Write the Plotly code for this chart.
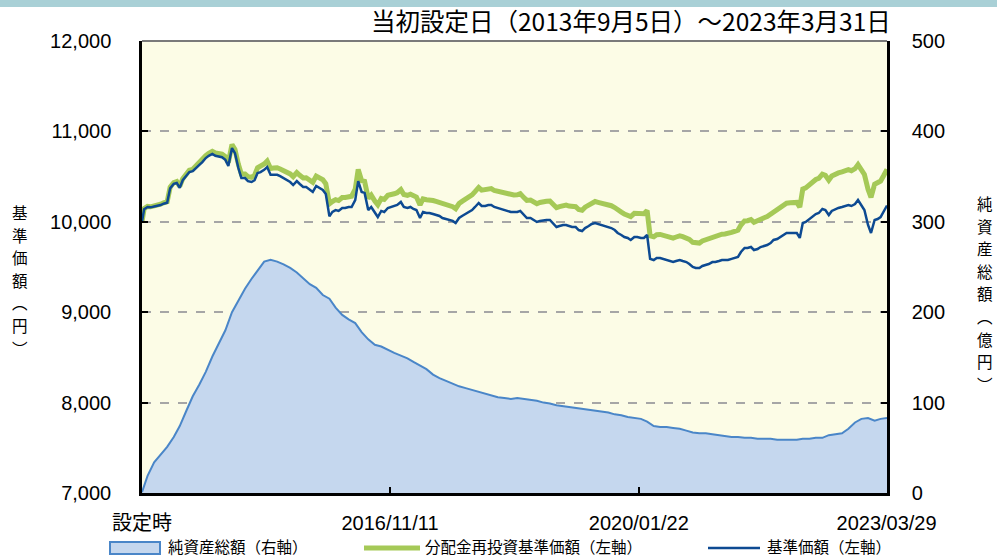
import pandas as pd
import plotly.graph_objects as go

# ---------------- data ----------------
title_text = "当初設定日（2013年9月5日）～2023年3月31日"
x_tick_dates = ["2013-09-05", "2016-11-11", "2020-01-22", "2023-03-29"]
x_tick_labels = ["設定時", "2016/11/11", "2020/01/22", "2023/03/29"]
left_title = "基準価額（円）"
right_title = "純資産総額（億円）"
series_names = ["純資産総額（右軸）", "分配金再投資基準価額（左軸）", "基準価額（左軸）"]

price_dates = (["2013-09-05"]
               + [d.strftime("%Y-%m-%d") for d in pd.date_range("2013-09-15", "2023-03-15", freq="SMS")]
               + ["2023-03-31"])
nav_dates = (["2013-09-05"]
             + [d.strftime("%Y-%m-%d") for d in pd.date_range("2013-10-01", "2023-03-01", freq="MS")]
             + ["2023-03-31"])

nav_price = [
    10000, 10140, 10164, 10160, 10170, 10175, 10185, 10200,
    10210, 10370, 10420, 10430, 10375, 10460, 10510, 10550,
    10560, 10595, 10630, 10660, 10705, 10730, 10750, 10730,
    10717, 10715, 10685, 10617, 10816, 10760, 10595, 10485,
    10484, 10450, 10440, 10460, 10540, 10550, 10575, 10606,
    10520, 10520, 10520, 10505, 10485, 10462, 10440, 10407,
    10450, 10418, 10385, 10385, 10350, 10330, 10396, 10374,
    10352, 10308, 10060, 10110, 10130, 10120, 10153, 10153,
    10164, 10164, 10240, 10450, 10330, 10320, 10130, 10164,
    10097, 10053, 10120, 10108, 10153, 10164, 10175, 10186,
    10219, 10164, 10153, 10164, 10142, 10130, 10042, 10108,
    10097, 10097, 10086, 10075, 10064, 10042, 10031, 10020,
    10010, 9987, 10042, 10064, 10086, 10108, 10130, 10164,
    10208, 10175, 10175, 10186, 10186, 10164, 10153, 10142,
    10130, 10120, 10108, 10108, 10108, 10120, 10075, 10042,
    10042, 10020, 9998, 10010, 10020, 10020, 10020, 9987,
    9942, 9953, 9965, 9965, 9953, 9942, 9942, 9909,
    9898, 9931, 9953, 9976, 9987, 9976, 9965, 9953,
    9942, 9931, 9909, 9876, 9854, 9832, 9821, 9799,
    9832, 9832, 9821, 9821, 9854, 9590, 9577, 9600,
    9600, 9590, 9577, 9566, 9555, 9566, 9577, 9566,
    9555, 9533, 9500, 9489, 9489, 9511, 9522, 9533,
    9555, 9555, 9566, 9577, 9577, 9577, 9590, 9600,
    9611, 9666, 9710, 9710, 9721, 9688, 9699, 9721,
    9732, 9743, 9765, 9799, 9810, 9832, 9854, 9876,
    9876, 9876, 9876, 9821, 9987, 9998, 10031, 10064,
    10086, 10097, 10142, 10130, 10075, 10120, 10142, 10153,
    10164, 10175, 10186, 10175, 10197, 10241, 10175, 10130,
    9965, 9876, 10020, 10031, 10053, 10110, 10180,
]

reinvested_price = [
    10000, 10145, 10170, 10166, 10177, 10183, 10195, 10210,
    10222, 10383, 10434, 10445, 10391, 10477, 10528, 10570,
    10581, 10618, 10654, 10685, 10731, 10757, 10780, 10762,
    10750, 10750, 10720, 10655, 10855, 10800, 10637, 10530,
    10530, 10500, 10492, 10515, 10597, 10610, 10640, 10673,
    10590, 10595, 10598, 10585, 10568, 10548, 10530, 10500,
    10545, 10515, 10485, 10487, 10455, 10437, 10505, 10485,
    10465, 10420, 10200, 10225, 10245, 10235, 10268, 10270,
    10282, 10283, 10360, 10580, 10455, 10447, 10260, 10295,
    10230, 10188, 10257, 10247, 10293, 10296, 10310, 10322,
    10356, 10302, 10293, 10305, 10285, 10274, 10187, 10254,
    10244, 10245, 10235, 10225, 10215, 10194, 10185, 10176,
    10167, 10145, 10202, 10226, 10250, 10274, 10298, 10334,
    10380, 10350, 10352, 10365, 10367, 10346, 10337, 10327,
    10316, 10307, 10296, 10297, 10299, 10312, 10268, 10237,
    10240, 10220, 10200, 10214, 10226, 10228, 10230, 10199,
    10156, 10168, 10182, 10184, 10174, 10165, 10167, 10136,
    10127, 10162, 10186, 10211, 10224, 10215, 10206, 10196,
    10187, 10178, 10158, 10127, 10107, 10087, 10078, 10058,
    10094, 10096, 10087, 10089, 10124, 9845, 9835, 9858,
    9860, 9852, 9840, 9830, 9820, 9832, 9845, 9835,
    9825, 9805, 9773, 9763, 9765, 9788, 9800, 9812,
    9836, 9838, 9850, 9863, 9865, 9867, 9882, 9894,
    9907, 9964, 10010, 10012, 10025, 9994, 10007, 10031,
    10045, 10058, 10083, 10120, 10134, 10158, 10182, 10206,
    10210, 10212, 10214, 10162, 10362, 10376, 10411, 10444,
    10468, 10480, 10527, 10515, 10460, 10506, 10529, 10541,
    10552, 10564, 10576, 10565, 10588, 10633, 10567, 10523,
    10359, 10271, 10416, 10428, 10451, 10509, 10580,
]

net_assets = [
    1,
    19, 34, 43, 51, 62, 74, 91, 107,
    120, 134, 151, 166, 180, 200, 213, 226,
    237, 246, 256, 258, 256, 253, 249, 244,
    238, 231, 227, 219, 215, 205, 197, 192,
    188, 178, 170, 164, 162, 158, 155, 152,
    149, 145, 141, 137, 131, 127, 124, 121,
    118, 116, 114, 112, 110, 108, 106, 105,
    104, 105, 104, 103, 102, 100, 99, 97,
    96, 95, 94, 93, 92, 91, 90, 89,
    87, 86, 84, 83, 82, 79, 74, 73,
    73, 72, 71, 69, 67, 66, 66, 65,
    64, 63, 62, 62, 61, 61, 60, 60,
    60, 59, 59, 59, 59, 60, 60, 61,
    61, 64, 65, 66, 71, 78, 82, 83,
    80, 82,
    83,
]

assert len(price_dates) == len(nav_price) == len(reinvested_price)
assert len(nav_dates) == len(net_assets)

# ---------------- styling ----------------
W, H = 997, 558
ML, MR, MT, MB = 142, 110, 41, 65
PW, PH = W - ML - MR, H - MT - MB

AREA_FILL, AREA_LINE = "#c5d7ee", "#4a86c8"
GREEN, NAVY = "#a5c957", "#0d4a92"


def px_x(x):
    return (x - ML) / PW


def px_y(y):
    return (H - MB - y) / PH


TICK_FONT = dict(family="Liberation Sans, Noto Sans CJK JP", size=20, color="black")
CJK = "Noto Sans CJK JP"

fig = go.Figure()
fig.add_trace(go.Scatter(
    x=nav_dates, y=net_assets, name=series_names[0], yaxis="y",
    mode="lines", fill="tozeroy", fillcolor=AREA_FILL,
    line=dict(color=AREA_LINE, width=2), showlegend=False,
))
fig.add_trace(go.Scatter(
    x=price_dates, y=reinvested_price, name=series_names[1], yaxis="y2",
    mode="lines", line=dict(color=GREEN, width=5), showlegend=False,
))
fig.add_trace(go.Scatter(
    x=price_dates, y=nav_price, name=series_names[2], yaxis="y2",
    mode="lines", line=dict(color=NAVY, width=2.5), showlegend=False,
))

fig.update_layout(
    width=W, height=H, autosize=False,
    margin=dict(l=ML, r=MR, t=MT, b=MB, autoexpand=False),
    paper_bgcolor="white", plot_bgcolor="#fcfce6",
    showlegend=False,
    xaxis=dict(
        type="date", range=["2013-09-05", "2023-03-31"],
        tickmode="array", tickvals=x_tick_dates, ticktext=x_tick_labels,
        ticks="inside", ticklen=6, tickwidth=2, tickcolor="black",
        showline=True, linecolor="black", linewidth=2.5,
        showgrid=False, zeroline=False, tickfont=TICK_FONT,
        ticklabelstandoff=10,
    ),
    yaxis=dict(
        range=[0, 500], dtick=100, side="right",
        ticks="inside", ticklen=6, tickwidth=2, tickcolor="black",
        showline=True, linecolor="black", linewidth=2.5,
        showgrid=True, gridcolor="#a6a6a6", griddash="dash", gridwidth=2,
        zeroline=False, tickfont=TICK_FONT, ticklabelstandoff=18,
    ),
    yaxis2=dict(
        range=[7000, 12000], dtick=1000, side="left", overlaying="y",
        tickformat=",d",
        ticks="inside", ticklen=6, tickwidth=2, tickcolor="black",
        showline=True, linecolor="black", linewidth=2.5,
        showgrid=False, zeroline=False, tickfont=TICK_FONT, ticklabelstandoff=24,
    ),
)

# top band and top border
fig.add_shape(type="rect", xref="paper", yref="paper",
              x0=px_x(-5), x1=px_x(W + 5), y0=px_y(7), y1=px_y(-5),
              fillcolor="#a9d0d6", line=dict(width=0), layer="above")
fig.add_shape(type="line", xref="paper", yref="paper",
              x0=0, x1=1, y0=1, y1=1, line=dict(color="#7a7a7a", width=2), layer="above")

# title
fig.add_annotation(text=title_text, xref="paper", yref="paper",
                   x=px_x(893), y=px_y(21), xanchor="right", yanchor="middle",
                   showarrow=False, font=dict(family=CJK, size=24.5, color="black"))

# vertical axis titles: one annotation per character, stacked
vert = {"（": "︵", "）": "︶"}
STEP = 22.6
for i, ch in enumerate(left_title):
    fig.add_annotation(text=vert.get(ch, ch), xref="paper", yref="paper",
                       x=px_x(20), y=px_y(212 + i * STEP),
                       xanchor="center", yanchor="middle", showarrow=False,
                       font=dict(family=CJK, size=15.5, color="black"))
for i, ch in enumerate(right_title):
    fig.add_annotation(text=vert.get(ch, ch), xref="paper", yref="paper",
                       x=px_x(985), y=px_y(203 + i * STEP),
                       xanchor="center", yanchor="middle", showarrow=False,
                       font=dict(family=CJK, size=15.5, color="black"))

# legend row (drawn below the plot)
LEG_Y = 547
fig.add_shape(type="rect", xref="paper", yref="paper",
              x0=px_x(110), x1=px_x(160), y0=px_y(554), y1=px_y(542),
              fillcolor=AREA_FILL, line=dict(color=AREA_LINE, width=2))
fig.add_shape(type="line", xref="paper", yref="paper",
              x0=px_x(364), x1=px_x(420), y0=px_y(LEG_Y + 1), y1=px_y(LEG_Y + 1),
              line=dict(color=GREEN, width=5))
fig.add_shape(type="line", xref="paper", yref="paper",
              x0=px_x(708), x1=px_x(760), y0=px_y(LEG_Y + 1), y1=px_y(LEG_Y + 1),
              line=dict(color=NAVY, width=2.5))
for name, xs in zip(series_names, [166, 423, 765]):
    fig.add_annotation(text=name, xref="paper", yref="paper",
                       x=px_x(xs), y=px_y(546), xanchor="left", yanchor="middle",
                       showarrow=False, font=dict(family=CJK, size=15.5, color="black"))

fig.write_html("out.html", config={"displayModeBar": False},
               post_script="document.body.style.margin='0';document.body.style.padding='0';")
